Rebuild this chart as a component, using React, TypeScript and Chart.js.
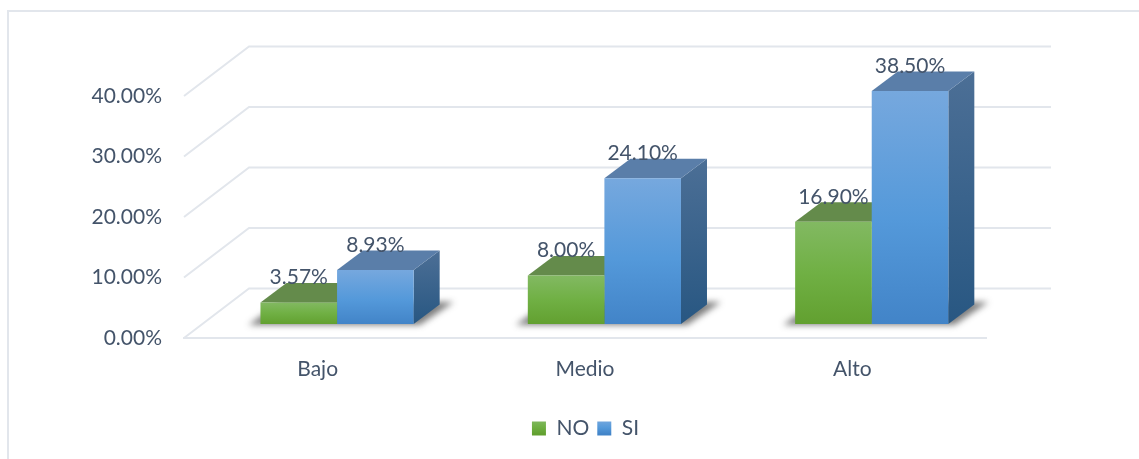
import React, { useEffect, useRef } from "react";
import { Chart, registerables } from "chart.js";

Chart.register(...registerables);

const categories = ["Bajo", "Medio", "Alto"];
const seriesNames = ["NO", "SI"];
const noValues = [3.57, 8.0, 16.9];
const siValues = [8.93, 24.1, 38.5];
const yTicks = { min: 0, max: 40, step: 10 };

const FONT = "Lato, Carlito, Calibri, sans-serif";
const FONT_SIZE = 21;
const TEXT = "#44546A";
const GRID = "#E2E6EC";
const WALL = { dx: 65, dy: -49.5 };
const FRONT = { dx: 19.4, dy: -14 };
const BAR = { dx: 26, dy: -19.5 };

const frontStops = [
  [["#82B962", 0], ["#70B044", 0.5], ["#62A030", 1]],
  [["#76A8DE", 0], ["#5499DA", 0.55], ["#4284C8", 1]],
] as [string, number][][];
const topColors = ["#648B4B", "#5A7EA9"];
const sideStops = [
  ["#4F7A3A", "#3F6A28"],
  ["#4C6F96", "#285782"],
];

function gradient(ctx: CanvasRenderingContext2D, y0: number, y1: number, stops: [string, number][]) {
  const g = ctx.createLinearGradient(0, y0, 0, y1);
  stops.forEach(([c, p]) => g.addColorStop(p, c));
  return g;
}

function poly(ctx: CanvasRenderingContext2D, pts: number[][], fill: string | CanvasGradient) {
  ctx.beginPath();
  pts.forEach(([x, y], i) => (i ? ctx.lineTo(x, y) : ctx.moveTo(x, y)));
  ctx.closePath();
  ctx.fillStyle = fill;
  ctx.fill();
}

const frame3d = {
  id: "frame3d",
  afterLayout(chart: any) {
    // centre the legend under the drawing, as in the original chart
    const lg = chart.legend;
    lg.left = 0;
    lg.right = 1171;
  },
  beforeDraw(chart: any) {
    const { ctx, chartArea: a, scales } = chart;
    ctx.save();
    ctx.strokeStyle = GRID;
    ctx.lineWidth = 2;
    ctx.beginPath();
    ctx.moveTo(8, 459);
    ctx.lineTo(8, 11);
    ctx.lineTo(1139, 11);
    ctx.stroke();
    ctx.lineWidth = 2;
    scales.y.ticks.forEach((t: any) => {
      const y = scales.y.getPixelForValue(t.value);
      ctx.beginPath();
      ctx.moveTo(a.left, y);
      ctx.lineTo(a.left + WALL.dx, y + WALL.dy);
      ctx.lineTo(a.right + WALL.dx, y + WALL.dy);
      ctx.stroke();
    });
    ctx.restore();
  },
  beforeDatasetsDraw(chart: any) {
    const { ctx, scales } = chart;
    ctx.save();
    ctx.translate(FRONT.dx, FRONT.dy);
    const base = scales.y.getPixelForValue(0);
    const m0 = chart.getDatasetMeta(0).data;
    const m1 = chart.getDatasetMeta(1).data;
    categories.forEach((_, i) => {
      const l = m0[i].x - m0[i].width / 2;
      const r = m1[i].x + m1[i].width / 2;
      ctx.save();
      ctx.filter = "blur(3px)";
      poly(
        ctx,
        [
          [l - 12, base + 1],
          [r + 6, base + 1],
          [r + 40, base - 22],
          [l + 20, base - 22],
        ],
        "rgba(40,40,40,0.6)"
      );
      ctx.restore();
    });
    [m0, m1].forEach((m: any[], d) => {
      m.forEach((b: any) => {
        const l = b.x - b.width / 2;
        const r = b.x + b.width / 2;
        poly(
          ctx,
          [
            [r, b.y],
            [r + BAR.dx, b.y + BAR.dy],
            [r + BAR.dx, base + BAR.dy],
            [r, base],
          ],
          gradient(ctx, b.y + BAR.dy, base, [
            [sideStops[d][0], 0],
            [sideStops[d][1], 1],
          ])
        );
        poly(
          ctx,
          [
            [l, b.y],
            [l + BAR.dx, b.y + BAR.dy],
            [r + BAR.dx, b.y + BAR.dy],
            [r, b.y],
          ],
          topColors[d]
        );
      });
    });
  },
  afterDatasetsDraw(chart: any) {
    const { ctx } = chart;
    ctx.restore();
    ctx.save();
    ctx.font = `${FONT_SIZE}px ${FONT}`;
    ctx.fillStyle = TEXT;
    ctx.textAlign = "center";
    ctx.textBaseline = "middle";
    chart.data.datasets.forEach((ds: any, d: number) => {
      chart.getDatasetMeta(d).data.forEach((b: any, i: number) => {
        ctx.fillText(ds.data[i].toFixed(2) + "%", b.x + FRONT.dx, b.y + FRONT.dy - 25);
      });
    });
    ctx.restore();
  },
};

function barFill(d: number) {
  return (c: any) => {
    if (c.dataIndex === undefined) return frontStops[d][0][0];
    const yS = c.chart.scales.y;
    return gradient(c.chart.ctx, yS.getPixelForValue(c.raw), yS.getPixelForValue(0), frontStops[d]);
  };
}

export default function App() {
  const ref = useRef<HTMLCanvasElement>(null);
  useEffect(() => {
    const canvas = ref.current!;
    const chart = new Chart(canvas, {
      type: "bar",
      data: {
        labels: categories,
        datasets: [
          { label: seriesNames[0], data: noValues, backgroundColor: barFill(0) as any },
          { label: seriesNames[1], data: siValues, backgroundColor: barFill(1) as any },
        ],
      },
      plugins: [frame3d],
      options: {
        animation: false,
        responsive: false,
        layout: { padding: { top: 96, right: 153, bottom: 10, left: 0 } },
        datasets: { bar: { categoryPercentage: 0.573, barPercentage: 1 } },
        plugins: {
          title: { display: false },
          tooltip: { enabled: false },
          legend: {
            position: "bottom",
            labels: {
              boxWidth: 14,
              boxHeight: 14,
              padding: 8,
              color: TEXT,
              font: { family: FONT, size: FONT_SIZE },
              generateLabels: (c: any) =>
                c.data.datasets.map((ds: any, i: number) => ({
                  text: ds.label,
                  datasetIndex: i,
                  fontColor: TEXT,
                  lineWidth: 0,
                  strokeStyle: "transparent",
                  fillStyle: gradient(c.ctx, 420, 434, frontStops[i]),
                })),
            },
          },
        },
        scales: {
          x: {
            grid: { display: false },
            border: { display: true, color: GRID, width: 2 },
            afterFit: (s: any) => {
              s.height = 72;
            },
            ticks: { color: TEXT, padding: 11, font: { family: FONT, size: FONT_SIZE } },
          },
          y: {
            min: yTicks.min,
            max: yTicks.max,
            afterFit: (s: any) => {
              s.width = 184;
            },
            grid: { display: false },
            border: { display: false },
            ticks: {
              stepSize: yTicks.step,
              color: TEXT,
              padding: 14,
              font: { family: FONT, size: FONT_SIZE },
              callback: (v: any) => Number(v).toFixed(2) + "%",
            },
          },
        },
      },
    });
    return () => chart.destroy();
  }, []);
  return (
    <div style={{ position: "fixed", left: 0, top: 0, width: 1139, height: 459, background: "#fff" }}>
      <canvas ref={ref} width={1139} height={459} style={{ display: "block" }} />
    </div>
  );
}
